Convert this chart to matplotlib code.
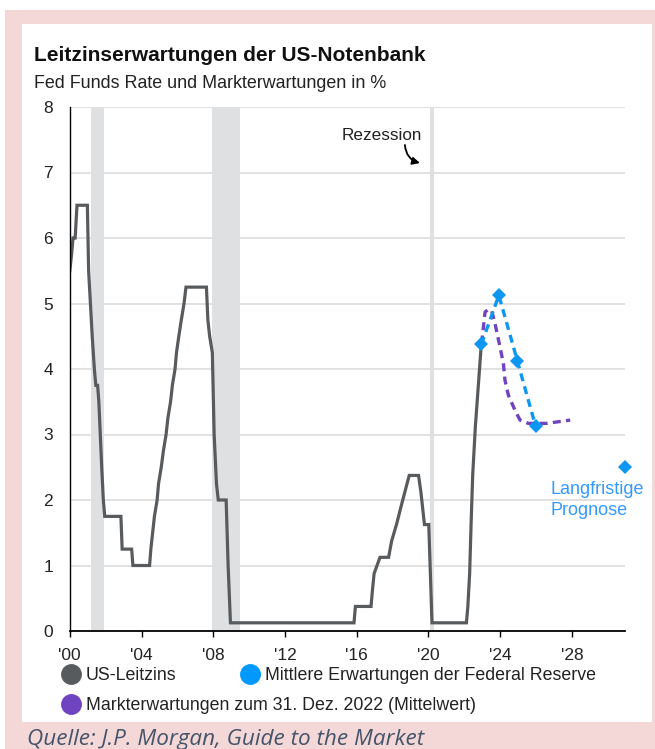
import matplotlib
matplotlib.use("Agg")
import matplotlib.pyplot as plt
from matplotlib.patches import Rectangle
from matplotlib.lines import Line2D

# ---------------- data ----------------
fed_years = [2000.00, 2000.10, 2000.18, 2000.30, 2000.40, 2000.98, 2001.05, 2001.15,
             2001.25, 2001.37, 2001.45, 2001.55, 2001.62, 2001.70, 2001.78, 2001.87,
             2001.95, 2002.85, 2002.92, 2003.45, 2003.52, 2004.45, 2004.52, 2004.62,
             2004.72, 2004.87, 2004.95, 2005.10, 2005.22, 2005.37, 2005.47, 2005.62,
             2005.72, 2005.87, 2005.95, 2006.08, 2006.22, 2006.37, 2006.48, 2007.62,
             2007.70, 2007.80, 2007.95, 2008.05, 2008.18, 2008.28, 2008.72, 2008.83,
             2008.96, 2015.85, 2015.93, 2016.80, 2016.88, 2016.97, 2017.30, 2017.78,
             2017.95, 2018.22, 2018.45, 2018.69, 2018.93, 2019.45, 2019.58, 2019.68,
             2019.78, 2020.02, 2020.20, 2022.12, 2022.20, 2022.30, 2022.38, 2022.47,
             2022.62, 2022.95]
fed_rate = [5.50, 5.75, 6.00, 6.00, 6.50, 6.50, 5.50, 5.00,
            4.50, 4.00, 3.75, 3.75, 3.50, 3.00, 2.50, 2.00,
            1.75, 1.75, 1.25, 1.25, 1.00, 1.00, 1.25, 1.50,
            1.75, 2.00, 2.25, 2.50, 2.75, 3.00, 3.25, 3.50,
            3.75, 4.00, 4.25, 4.50, 4.75, 5.00, 5.25, 5.25,
            4.75, 4.50, 4.25, 3.00, 2.25, 2.00, 2.00, 1.00,
            0.125, 0.125, 0.375, 0.375, 0.625, 0.875, 1.125, 1.125,
            1.375, 1.625, 1.875, 2.125, 2.375, 2.375, 2.125, 1.875,
            1.625, 1.625, 0.125, 0.125, 0.375, 0.875, 1.625, 2.375,
            3.125, 4.375]

fomc_years = [2022.95, 2023.93, 2024.96, 2025.98]
fomc_rate = [4.375, 5.125, 4.125, 3.125]
longrun_year = 2030.96
longrun_rate = 2.5

market_years = [2022.97, 2023.16, 2023.34, 2023.53, 2023.71, 2023.99, 2024.18,
                2024.27, 2024.46, 2024.83, 2025.11, 2025.57, 2026.60, 2027.91]
market_rate = [4.39, 4.87, 4.91, 4.89, 4.70, 4.34, 4.09,
               3.83, 3.60, 3.37, 3.22, 3.17, 3.17, 3.22]

recessions = [(2001.20, 2001.91), (2007.95, 2009.48), (2020.10, 2020.33)]

xticks = [2000, 2004, 2008, 2012, 2016, 2020, 2024, 2028]
xtick_labels = ["'00", "'04", "'08", "'12", "'16", "'20", "'24", "'28"]
yticks = [0, 1, 2, 3, 4, 5, 6, 7, 8]

legend_labels = ["US-Leitzins", "Mittlere Erwartungen der Federal Reserve",
                 "Markterwartungen zum 31. Dez. 2022 (Mittelwert)"]

# ---------------- style ----------------
GRAY = "#585b5e"
BLUE = "#0d97f2"
PURPLE = "#7043c0"
LBLUE = "#3399ff"
PINK = "#f4d7d7"
FONT = "Liberation Sans"

W, H = 655, 749
fig = plt.figure(figsize=(W / 100, H / 100), dpi=100)
fig.patch.set_facecolor("white")


def fx(px):
    return px / W


def fy(py):
    return 1 - py / H


fig.patches.append(Rectangle((fx(5), 0), fx(655) - fx(5), fy(10), transform=fig.transFigure,
                             facecolor=PINK, edgecolor="none", zorder=-2))
fig.patches.append(Rectangle((fx(22), fy(722)), fx(652) - fx(22), fy(24) - fy(722),
                             transform=fig.transFigure, facecolor="white",
                             edgecolor="none", zorder=-1))

fig.text(fx(34), fy(61), "Leitzinserwartungen der US-Notenbank", fontsize=15,
         fontweight="bold", family=FONT, color="#111111", va="baseline", ha="left")
fig.text(fx(34), fy(88), "Fed Funds Rate und Markterwartungen in %", fontsize=12.9,
         family=FONT, color="#222222", va="baseline", ha="left")
fig.text(fx(27), fy(745), "Quelle: J.P. Morgan, Guide to the Market", fontsize=16.2,
         family="Open Sans", style="italic", color="#44546a", va="baseline", ha="left")

ax = fig.add_axes([fx(69.8), fy(631), (625 - 69.8) / W, (631 - 107) / H])
ax.set_facecolor("none")
ax.set_xlim(2000, 2000 + (625 - 69.8) / 17.93)
ax.set_ylim(0, 8)

for y in yticks[1:]:
    ax.axhline(y, color="#d9d9d9", lw=1.1, zorder=1)
for a, b in recessions:
    ax.axvspan(a, b, color="#dfe0e2", lw=0, zorder=1.5)

ax.plot(fed_years, fed_rate, color=GRAY, lw=2.3, zorder=3, solid_joinstyle="miter")
ax.plot(market_years, market_rate, color=PURPLE, lw=2.4, ls=(0, (2.4, 1.6)), zorder=4)
ax.plot(fomc_years, fomc_rate, color=BLUE, lw=2.4, ls=(0, (2.4, 1.6)), zorder=5,
        marker="D", ms=7, markeredgewidth=0)
ax.plot([longrun_year], [longrun_rate], ls="none", marker="D", ms=7, color=BLUE,
        markeredgewidth=0, clip_on=False, zorder=5)

ax.text(2000 + (550 - 69.8) / 17.93, 2.0, "Langfristige\nPrognose", color=LBLUE,
        fontsize=13, family=FONT, ha="left", va="center", linespacing=1.25)

ax.text(2017.41, 7.57, "Rezession", fontsize=12.3, family=FONT, ha="center",
        va="center", color="#222222")
ax.annotate("", xy=(2019.53, 7.145), xytext=(2018.69, 7.42),
            arrowprops=dict(arrowstyle="-|>", connectionstyle="arc3,rad=0.35",
                            color="black", lw=1.3, mutation_scale=11,
                            shrinkA=0, shrinkB=0))

for s in ["top", "right"]:
    ax.spines[s].set_visible(False)
ax.spines["left"].set_color("black")
ax.spines["left"].set_linewidth(1.0)
ax.spines["bottom"].set_color("black")
ax.spines["bottom"].set_linewidth(1.3)
ax.spines["left"].set_zorder(6)
ax.spines["bottom"].set_zorder(6)

ax.set_xticks(xticks)
ax.set_xticklabels(xtick_labels, family=FONT, fontsize=12.5, color="#222222")
ax.set_yticks(yticks)
ax.set_yticklabels([str(v) for v in yticks], family=FONT, fontsize=12.5, color="#222222")
ax.tick_params(axis="x", direction="out", length=4, width=1.0, pad=8)
ax.tick_params(axis="y", length=0, pad=12)

h_gray = Line2D([], [], ls="none", marker="o", ms=14, color=GRAY)
h_blue = Line2D([], [], ls="none", marker="o", ms=14, color="#0099ff")
h_purple = Line2D([], [], ls="none", marker="o", ms=14, color=PURPLE)

leg1 = fig.legend([h_gray, h_blue], legend_labels[:2], loc="center left",
                  bbox_to_anchor=(fx(61), fy(676)), ncol=2, frameon=False,
                  prop={"family": FONT, "size": 12.8}, handlelength=1.1,
                  handletextpad=0.3, columnspacing=3.6, borderpad=0, borderaxespad=0)
leg2 = fig.legend([h_purple], legend_labels[2:], loc="center left",
                  bbox_to_anchor=(fx(61), fy(706)), frameon=False,
                  prop={"family": FONT, "size": 12.8}, handlelength=1.1,
                  handletextpad=0.3, borderpad=0, borderaxespad=0)
for lg in (leg1, leg2):
    for t in lg.get_texts():
        t.set_color("#222222")

fig.savefig("out.png", dpi=100)
